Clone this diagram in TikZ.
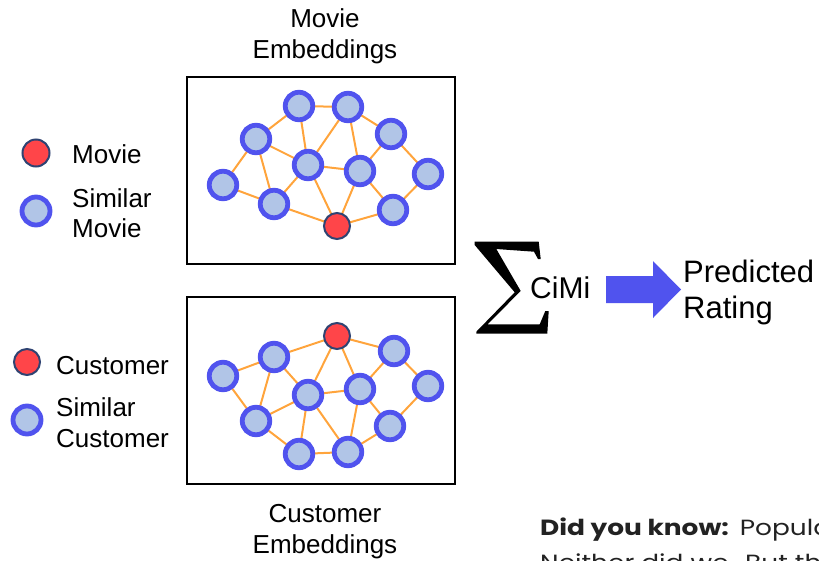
\documentclass[tikz,border=0pt]{standalone}
\usepackage{fontspec}
\setmainfont{Liberation Sans}
\newfontfamily\notefont[FakeStretch=1.2]{Poppins}
\definecolor{ringblue}{HTML}{5053EE}
\definecolor{innerblue}{HTML}{B1C5E7}
\definecolor{edgeorange}{HTML}{FFA43C}
\definecolor{hotred}{HTML}{FF4549}
\definecolor{navy}{HTML}{2F4372}
\definecolor{notegray}{HTML}{222222}
\tikzset{
  simnode/.style={circle, draw=ringblue, line width=4.8pt, fill=innerblue,
                  minimum size=27.5pt, inner sep=0pt},
  keynode/.style={circle, draw=navy, line width=2pt, fill=hotred,
                  minimum size=26pt, inner sep=0pt},
  link/.style={edgeorange, line width=2pt},
  panel/.style={draw=black, line width=1.8pt},
  label/.style={font=\fontsize{26}{31}\selectfont, anchor=base west, inner sep=0pt},
  bigtext/.style={label, font=\fontsize{31}{36}\selectfont},
  notetext/.style={anchor=base west, inner sep=0pt, text=notegray,
                   font=\notefont\fontsize{22}{26}\selectfont},
}
\begin{document}
\begin{tikzpicture}[x=1pt, y=-1pt]
\useasboundingbox (0,0) rectangle (819,560);

% panels
\draw[panel] (187,77) rectangle (455,264);
\draw[panel] (187,297) rectangle (455,484);

% titles
\node[label, anchor=base] (tt1) at (325,27) {Movie};
\node[label, anchor=base] (tt2) at (325,58) {Embeddings};
\node[label, anchor=base] (bt1) at (325,522) {Customer};
\node[label, anchor=base] (bt2) at (325,553) {Embeddings};

% movie graph
\foreach \n/\x/\y in {A/299/106, B/348/107, C/256/139, D/391/134, E/308/165,
                      F/360/171, G/223/185, H/428/174, I/274/204, J/393/210}
  \coordinate (m\n) at (\x,\y);
\coordinate (mK) at (337,226);
\foreach \a/\b in {A/B, A/C, A/E, B/E, B/F, B/D, C/G, C/E, C/I, E/F, E/I, E/K,
                   F/K, F/D, F/J, D/H, H/J, G/I, I/K, K/J}
  \draw[link] (m\a) -- (m\b);
\foreach \n in {A,B,C,D,E,F,G,H,I,J}
  \node[simnode] (nm\n) at (m\n) {};
\node[keynode] (nmK) at (mK) {};

% customer graph
\foreach \n/\x/\y in {P/274/357, Q/394/351, S/223/376, T/308/395, U/360/389,
                      V/428/386, W/256/421, X/390/426, Y/299/454, Z/348/452}
  \coordinate (c\n) at (\x,\y);
\coordinate (cR) at (337,336);
\foreach \a/\b in {S/P, P/R, R/Q, R/T, R/U, P/W, P/T, S/W, W/T, W/Y, T/U, T/Y,
                   T/Z, U/Q, U/Z, U/X, Q/V, V/X, Y/Z, Z/X}
  \draw[link] (c\a) -- (c\b);
\foreach \n in {P,Q,S,T,U,V,W,X,Y,Z}
  \node[simnode] (nc\n) at (c\n) {};
\node[keynode] (ncR) at (cR) {};

% legends
\node[keynode, minimum size=27pt] (lm1) at (36,153) {};
\node[label] (lm1t) at (72,163) {Movie};
\node[simnode, minimum size=28pt] (lm2) at (36,211) {};
\node[label] (lm2t) at (72,207) {Similar};
\node[label] (lm2u) at (72,237) {Movie};

\node[keynode, minimum size=26pt] (lc1) at (27,362) {};
\node[label] (lc1t) at (56,374) {Customer};
\node[simnode, minimum size=28pt] (lc2) at (27,420) {};
\node[label] (lc2t) at (56,416) {Similar};
\node[label] (lc2u) at (56,447) {Customer};

% summation sign, drawn as a filled outline
\fill[black]
  (474.7,241.7) -- (538.7,241.7) -- (540.7,259) -- (538,259) -- (534,251.7)
  -- (496.3,249) -- (520.7,291) -- (487.5,324.3) -- (539.7,324.3)
  -- (545.3,311) -- (548.7,311) -- (547.3,333.7) -- (476.3,333.7)
  -- (476.3,331.7) -- (514.7,292.3) -- (474.7,245) -- cycle;
\coordinate (sig) at (511,288);
\node[bigtext, font=\fontsize{30}{36}\selectfont] (cimi) at (530,298) {CiMi};

% block arrow
\fill[ringblue]
  (606,276) -- (653,276) -- (653,261) -- (681,289.5) -- (653,318) -- (653,303)
  -- (606,303) -- cycle;
\coordinate (arr) at (681,289.5);

\node[bigtext] (pr1) at (683,282) {Predicted};
\node[bigtext] (pr2) at (683,318) {Rating};

% note text running off the edge
\begin{scope}
  \clip (0,0) rectangle (819,560);
  \node[notetext] (note1) at (540,535)
        {\textbf{Did you know:}\enspace Popular};
  \node[notetext] (note2) at (540,570)
        {Neither did we.\enspace But th};
\end{scope}
\end{tikzpicture}
\end{document}
